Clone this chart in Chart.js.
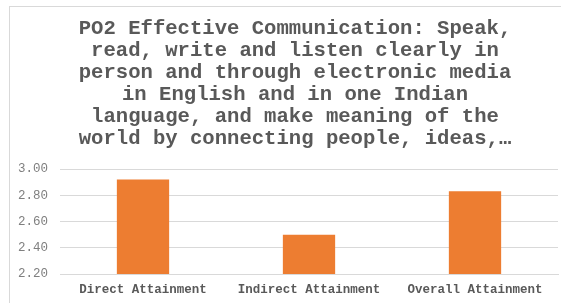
<!DOCTYPE html>
<html>
<head>
<meta charset="utf-8">
<script src="https://cdn.jsdelivr.net/npm/chart.js@4/dist/chart.umd.min.js"></script>
<style>
  html, body { margin: 0; padding: 0; overflow: hidden; background: #fff; }
  #wrap { position: absolute; left: 9px; top: 6px; width: 572px; height: 310px; border: 1px solid #d9d9d9; }
</style>
</head>
<body>
<div id="wrap"><canvas id="barChart" width="572" height="310"></canvas></div>
<script>
  // Chart data
  const categories = ['Direct Attainment', 'Indirect Attainment', 'Overall Attainment'];
  const attainment = [2.92, 2.50, 2.83];
  const titleLines = [
    'PO2 Effective Communication: Speak,',
    'read, write and listen clearly in',
    'person and through electronic media',
    'in English and in one Indian',
    'language, and make meaning of the',
    'world by connecting people, ideas,\u2026'
  ];
  const yMin = 2.2, yMax = 3.0, yStep = 0.2;

  const monoFont = '"Liberation Mono", "Courier New", monospace';

  const ctx = document.getElementById('barChart').getContext('2d');
  new Chart(ctx, {
    type: 'bar',
    data: {
      labels: categories,
      datasets: [{
        label: 'Attainment',
        data: attainment,
        backgroundColor: '#ED7D31',
        barPercentage: 0.315,
        categoryPercentage: 1
      }]
    },
    options: {
      responsive: false,
      animation: false,
      layout: { padding: { left: 8, right: 10, top: 11, bottom: 20 } },
      plugins: {
        legend: { display: false },
        tooltip: { enabled: false },
        title: {
          display: true,
          text: titleLines,
          color: '#595959',
          font: { family: monoFont, size: 20.6, weight: 'bold', lineHeight: 1.068 },
          padding: { top: 0, bottom: 19 }
        }
      },
      scales: {
        x: {
          grid: { display: false },
          border: { color: '#d9d9d9' },
          ticks: {
            color: '#595959',
            padding: 0,
            font: { family: monoFont, size: 12.5, weight: 'bold' }
          }
        },
        y: {
          min: yMin,
          max: yMax,
          border: { display: false },
          grid: { color: '#d9d9d9', drawTicks: false },
          ticks: {
            stepSize: yStep,
            color: '#7f7f7f',
            padding: 12,
            font: { family: monoFont, size: 12.5 },
            callback: v => Number(v).toFixed(2)
          },
          afterFit: scale => { scale.width = 42; }
        },
        // empty spacer on the right so the title sits where it does in the original
        spacer: {
          position: 'right',
          min: yMin,
          max: yMax,
          border: { display: false },
          grid: { display: false },
          ticks: { display: false },
          afterFit: scale => { scale.width = 14; }
        }
      }
    }
  });
</script>
</body>
</html>
